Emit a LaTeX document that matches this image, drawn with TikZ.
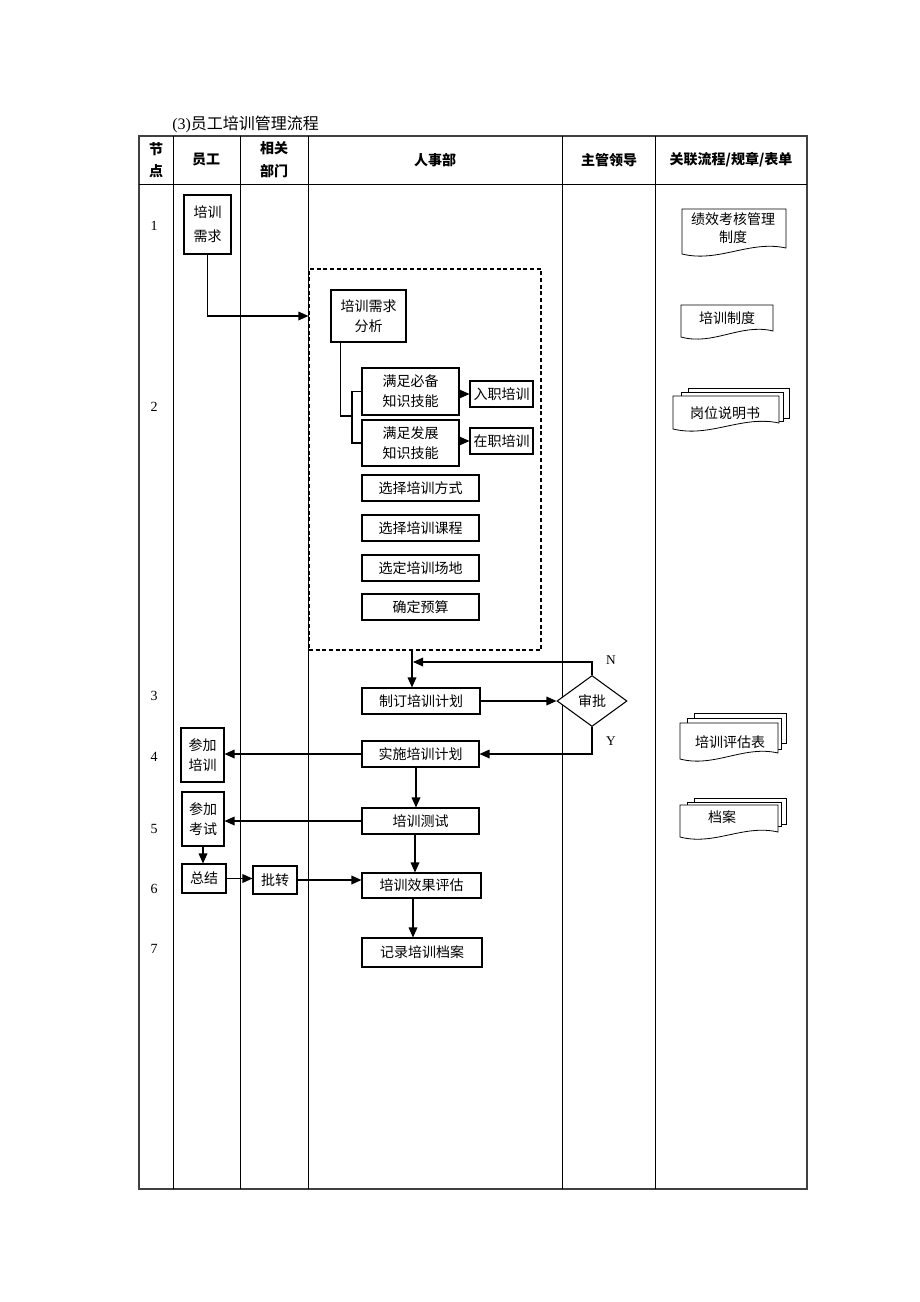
\documentclass[tikz,border=0pt]{standalone}
\usepackage{fontspec}
\setmainfont{Liberation Serif}
\newfontfamily\cjk{Noto Sans CJK SC}
\usetikzlibrary{arrows.meta,shapes.geometric,calc}
\newcommand\bx[6]{\node[box, minimum width={0.75pt*(#4-#2)}, minimum height={0.75pt*(#5-#3)}] (#1) at ({(#2+#4)/2},{(#3+#5)/2}) {#6};}
\newcommand\docshape[5]{\draw[docst] (#1,#2) -- (#3,#2) -- (#3,#5) .. controls ({#3-0.35*(#3-#1)},{#5-8}) and ({#1+0.35*(#3-#1)},{#4+9}) .. (#1,#4) -- cycle;}
\newcommand\sheet[4]{\draw[docst] (#1,#2) rectangle (#3,#4);}
\begin{document}
\begin{tikzpicture}[x=0.75pt,y=-0.75pt,
  box/.style={draw, line width=0.8pt, fill=white, inner sep=0pt, align=center, font=\cjk\fontsize{10.5}{15}\selectfont},
  arr/.style={line width=0.9pt, -{Triangle[length=7.5pt,width=6.5pt]}},
  ln/.style={line width=0.9pt},
  grid/.style={line width=0.6pt},
  docst/.style={line width=0.6pt, fill=white},
  lbl/.style={font=\cjk\fontsize{10.5}{13}\selectfont, inner sep=0pt, align=center},
  hd/.style={font=\cjk\bfseries\fontsize{10.5}{17}\selectfont, inner sep=0pt, align=center},
  num/.style={font=\fontsize{10.5}{12}\selectfont, inner sep=0pt},
  dbx/.style={draw, line width=0.9pt, dash pattern=on 3pt off 2pt, inner sep=0pt}
]
\useasboundingbox (0,0) rectangle (920,1302);
% title
\node[anchor=west, inner sep=0pt, font=\fontsize{12}{14}\selectfont] (title) at (172,124) {(3)\cjk 员工培训管理流程};
% table
\draw[line width=1pt, draw=black!75] (139,136) rectangle (807,1189);
\draw[grid] (139,184) -- (807,184);
\foreach \xx in {173,240,308,562,655} \draw[grid] (\xx,136) -- (\xx,1189);
% header
\node[hd] (h1) at (156,160) {节\\点};
\node[hd] (h2) at (206,160) {员工};
\node[hd] (h3) at (274,160) {相关\\部门};
\node[hd] (h4) at (435,160) {人事部};
\node[hd] (h5) at (609,160) {主管领导};
\node[hd] (h6) at (731,160) {关联流程/规章/表单};
% row numbers
\node[num] (n1) at (154,226) {1};
\node[num] (n2) at (154,407) {2};
\node[num] (n3) at (154,696) {3};
\node[num] (n4) at (154,757) {4};
\node[num] (n5) at (154,829) {5};
\node[num] (n6) at (154,889) {6};
\node[num] (n7) at (154,949) {7};
% dashed group
\node[dbx, minimum width={0.75pt*232}, minimum height={0.75pt*381}] (dbox) at (425,459.5) {};
% boxes
\bx{need}{184}{195}{231}{254}{培训\\[3pt]需求}
\bx{fx}{331}{290}{406}{342}{培训需求\\分析}
\bx{m1}{362}{368}{459}{415}{满足必备\\知识技能}
\bx{m2}{362}{420}{459}{466}{满足发展\\知识技能}
\bx{r1}{470}{381}{533}{407}{入职培训}
\bx{r2}{470}{428}{533}{454}{在职培训}
\bx{s1}{362}{475}{479}{501}{选择培训方式}
\bx{s2}{362}{515}{479}{541}{选择培训课程}
\bx{s3}{362}{555}{479}{581}{选定培训场地}
\bx{s4}{362}{594}{479}{620}{确定预算}
\bx{plan}{362}{688}{480}{714}{制订培训计划}
\node[box, diamond, minimum width={0.75pt*70}, minimum height={0.75pt*51}] (dia) at (592,701) {审批};
\bx{exec}{362}{741}{479}{767}{实施培训计划}
\bx{att}{181}{728}{224}{782}{参加\\培训}
\bx{test}{362}{808}{479}{834}{培训测试}
\bx{exam}{182}{792}{224}{846}{参加\\考试}
\bx{sum}{182}{864}{226}{893}{总结}
\bx{pz}{253}{866}{297}{894}{批转}
\bx{eval}{362}{873}{481}{898}{培训效果评估}
\bx{rec}{362}{938}{482}{967}{记录培训档案}
% connectors
\draw[arr] (need.south) |- (dbox.west |- fx.west);
\coordinate (br) at (352,416);
\draw[ln] ($(fx.south west)+(10,0)$) |- (br);
\draw[ln] (m1.west) -| (br) |- (m2.west);
\draw[arr] (m1.east |- r1.west) -- (r1.west);
\draw[arr] (m2.east |- r2.west) -- (r2.west);
\coordinate (cx) at (412,0);
\draw[arr] (dbox.south -| cx) -- (plan.north -| cx);
\draw[arr] (plan.east) -- (dia.west);
\coordinate (nend) at (413,662);
\draw[arr] (dia.north) |- (nend);
\draw[arr] (dia.south) |- (exec.east);
\node[num, font=\fontsize{10}{12}\selectfont] (lN) at (611,660) {N};
\node[num, font=\fontsize{10}{12}\selectfont] (lY) at (611,741) {Y};
\draw[arr] (exec.west) -- (exec.west -| att.east);
\coordinate (c1) at (416,0);
\coordinate (c2) at (415,0);
\coordinate (c3) at (413,0);
\draw[arr] (exec.south -| c1) -- (test.north -| c1);
\draw[arr] (test.west) -- (test.west -| exam.east);
\draw[arr] (exam.south) -- (exam.south |- sum.north);
\draw[arr] (sum.east) -- (sum.east -| pz.west);
\draw[arr] (pz.east) -- (pz.east -| eval.west);
\draw[arr] (test.south -| c2) -- (eval.north -| c2);
\draw[arr] (eval.south -| c3) -- (rec.north -| c3);
% related documents
\docshape{682}{209}{786}{254}{248}
\node[lbl] (d1) at (733,228) {绩效考核管理\\制度};
\docshape{681}{305}{773}{337}{331}
\node[lbl] (d2) at (727,318) {培训制度};
\sheet{688}{388}{789}{418}
\sheet{681}{392}{783}{421}
\docshape{673}{396}{779}{429}{423}
\node[lbl] (d3) at (725,413) {岗位说明书};
\sheet{694}{713}{786}{743}
\sheet{687}{718}{781}{749}
\docshape{680}{723}{778}{759}{753}
\node[lbl] (d4) at (730,742) {培训评估表};
\sheet{694}{798}{786}{824}
\sheet{687}{802}{781}{826}
\docshape{680}{805}{778}{837}{832}
\node[lbl] (d5) at (722,817) {档案};
\end{tikzpicture}
\end{document}
